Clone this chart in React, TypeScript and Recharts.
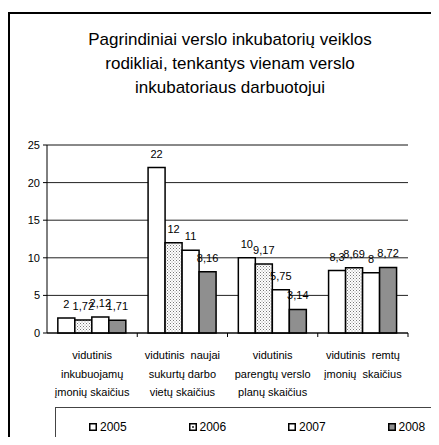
import { BarChart, Bar, XAxis, YAxis, CartesianGrid, LabelList, ReferenceLine } from 'recharts';

const categories = [
  'vidutinis\ninkubuojamų\nįmonių skaičius',
  'vidutinis  naujai\nsukurtų darbo\nvietų skaičius',
  'vidutinis\nparengtų verslo\nplanų skaičius',
  'vidutinis  remtų\nįmonių  skaičius',
];
const years = ['2005', '2006', '2007', '2008'];
const values2005 = [2, 22, 10, 8.3];
const values2006 = [1.72, 12, 9.17, 8.69];
const values2007 = [2.12, 11, 5.75, 8];
const values2008 = [1.71, 8.16, 3.14, 8.72];
const yTicks = [0, 5, 10, 15, 20, 25];

const FONT = '"Liberation Sans", Arial, sans-serif';
const fills = ['#ffffff', 'url(#dots)', '#ffffff', '#8f8f8f'];

const chartData = categories.map((name, i) => ({
  name,
  y2005: values2005[i],
  y2006: values2006[i],
  y2007: values2007[i],
  y2008: values2008[i],
}));

const fmt = (v: number) => String(v).replace('.', ',');

function CategoryTick(props: any) {
  const { x, y, payload, width, visibleTicksCount } = props;
  const band = width / visibleTicksCount;
  const lines = String(payload.value).split('\n');
  return (
    <g>
      <line x1={x + band / 2} x2={x + band / 2} y1={y} y2={y + 4} stroke="#000" />
      {lines.map((line, i) => (
        <text
          key={i}
          x={x}
          y={y + 26 + i * 18.5}
          textAnchor="middle"
          fontSize={11}
          fontFamily={FONT}
          fill="#000"
          style={{ whiteSpace: 'pre' }}
        >
          {line}
        </text>
      ))}
    </g>
  );
}

function LegendIcon({ index }: { index: number }) {
  return (
    <svg width={8} height={8} style={{ display: 'block' }}>
      <rect x={0.75} y={0.75} width={6.5} height={6.5} fill={index === 3 ? '#8f8f8f' : '#fff'} stroke="#000" strokeWidth={1.5} />
      {index === 1 && <rect x={3} y={3} width={2} height={2} fill="#555" />}
    </svg>
  );
}

export default function App() {
  return (
    <div
      style={{
        position: 'relative',
        width: 431,
        height: 437,
        marginBottom: -8,
        overflow: 'hidden',
        fontFamily: FONT,
        background: '#fff',
      }}
    >
      <div
        style={{
          position: 'absolute',
          left: 0,
          top: 4,
          width: 600,
          height: 600,
          border: '2px solid #000',
        }}
      />
      <div
        style={{
          position: 'absolute',
          left: 52,
          top: 20,
          width: 340,
          textAlign: 'center',
          fontSize: 17,
          lineHeight: '24px',
          color: '#000',
        }}
      >
        Pagrindiniai verslo inkubatorių veiklos
        <br />
        rodikliai, tenkantys vienam verslo
        <br />
        inkubatoriaus darbuotojui
      </div>
      <div style={{ position: 'absolute', left: 0, top: 0 }}>
        <BarChart
          width={431}
          height={437}
          data={chartData}
          margin={{ top: 137, right: 31, bottom: 42, left: 9 }}
          barCategoryGap="12%"
          barGap={0}
        >
          <defs>
            <pattern id="dots" width={3} height={3} patternUnits="userSpaceOnUse">
              <rect width={3} height={3} fill="#fff" />
              <rect x={0} y={0} width={1} height={1} fill="#777" />
              <rect x={1.5} y={1.5} width={1} height={1} fill="#999" />
            </pattern>
          </defs>
          <CartesianGrid vertical={false} stroke="#222" />
          <ReferenceLine y={25} stroke="#808080" />
          <XAxis
            dataKey="name"
            interval={0}
            tickLine={false}
            tickSize={0}
            tickMargin={0}
            height={70}
            axisLine={{ stroke: '#000' }}
            tick={<CategoryTick />}
          />
          <YAxis
            domain={[0, 25]}
            ticks={yTicks}
            interval={0}
            width={30}
            tickSize={4}
            tickMargin={3}
            axisLine={{ stroke: '#000' }}
            tickLine={{ stroke: '#000' }}
            tick={{ fontSize: 11, fill: '#000', fontFamily: FONT }}
          />
          <YAxis
            yAxisId="frame"
            orientation="right"
            width={0}
            tick={false}
            tickLine={false}
            axisLine={{ stroke: '#808080' }}
          />
          {years.map((year, i) => (
            <Bar
              key={year}
              dataKey={`y${year}`}
              name={year}
              fill={fills[i]}
              stroke="#000"
              strokeWidth={1.5}
              isAnimationActive={false}
            >
              <LabelList
                dataKey={`y${year}`}
                position="top"
                offset={10}
                formatter={(v: any) => fmt(Number(v))}
                style={{ fontSize: 11, fill: '#000', fontFamily: FONT }}
              />
            </Bar>
          ))}
        </BarChart>
      </div>
      <div
        style={{
          position: 'absolute',
          left: 47,
          top: 399,
          width: 500,
          height: 100,
          border: '1px solid #444',
          background: 'transparent',
        }}
      >
        {years.map((year, i) => (
          <div
            key={year}
            style={{
              position: 'absolute',
              left: 33 + i * 99.5,
              top: 12,
              display: 'flex',
              alignItems: 'center',
              gap: 3,
              fontSize: 12,
              lineHeight: '14px',
              color: '#000',
            }}
          >
            <LegendIcon index={i} />
            <span>{year}</span>
          </div>
        ))}
      </div>
    </div>
  );
}
